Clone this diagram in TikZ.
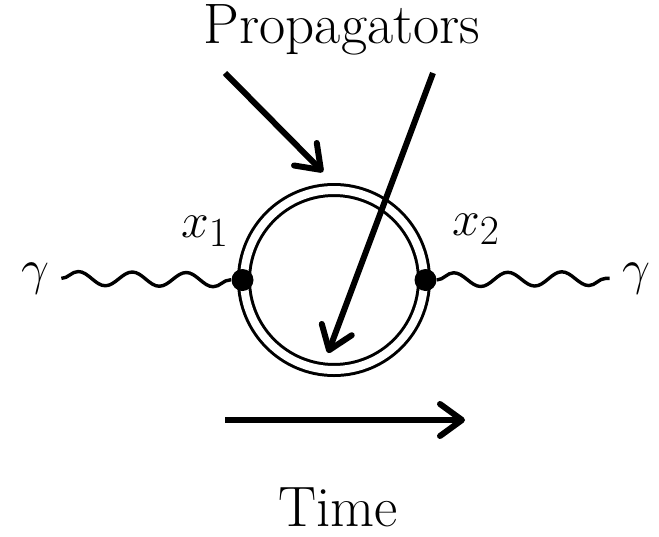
\documentclass[tikz,border=0pt]{standalone}
\usetikzlibrary{arrows.meta,decorations.pathmorphing}

\begin{document}
\begin{tikzpicture}[x=0.5pt, y=-0.5pt, >={Straight Barb[length=11pt,width=16pt,round]},
    every node/.style={font=\fontsize{28.5}{33}\selectfont}]
  \tikzstyle{loopline}=[circle, draw, double, line width=1.5pt, double distance=4pt, minimum size=90pt, inner sep=0pt]
  \tikzstyle{vertex}=[circle, fill, minimum size=11pt, inner sep=0pt]
  \tikzstyle{photon}=[line width=1.7pt, decorate, decoration={snake, segment length=27pt, amplitude=3.5pt}]
  \tikzstyle{pointer}=[->, line width=3pt]
  \useasboundingbox (0,0) rectangle (659,536);
  % loop and vertices
  \node[loopline] (loop) at (334,280) {};
  \node[vertex] (v1) at (loop.west) {};
  \node[vertex] (v2) at (loop.east) {};
  \node[anchor=base, inner xsep=6pt] (gl) at (35,284) {$\gamma$};
  \node[anchor=base, inner xsep=6pt] (gr) at (636,284) {$\gamma$};
  \node[anchor=base] (x1) at (205,237) {$x_1$};
  \node[anchor=base] (x2) at (476,235) {$x_2$};
  \draw[photon] (gl) -- (v1);
  \draw[photon] (v2) -- (gr);
  % labels and pointers
  \node[anchor=base] (props) at (342,43) {Propagators};
  \node[anchor=base, inner sep=1pt] (time) at (338,526) {Time};
  \coordinate (p1s) at (225,73);
  \coordinate (p1e) at (323,172);
  \coordinate (p2s) at (433,73);
  \coordinate (p2e) at (328,353);
  \coordinate (ts) at (225,420);
  \coordinate (te) at (465,420);
  \draw[pointer] (p1s) -- (p1e);
  \draw[pointer] (p2s) -- (p2e);
  \draw[pointer] (ts) -- (te);
\end{tikzpicture}
\end{document}
